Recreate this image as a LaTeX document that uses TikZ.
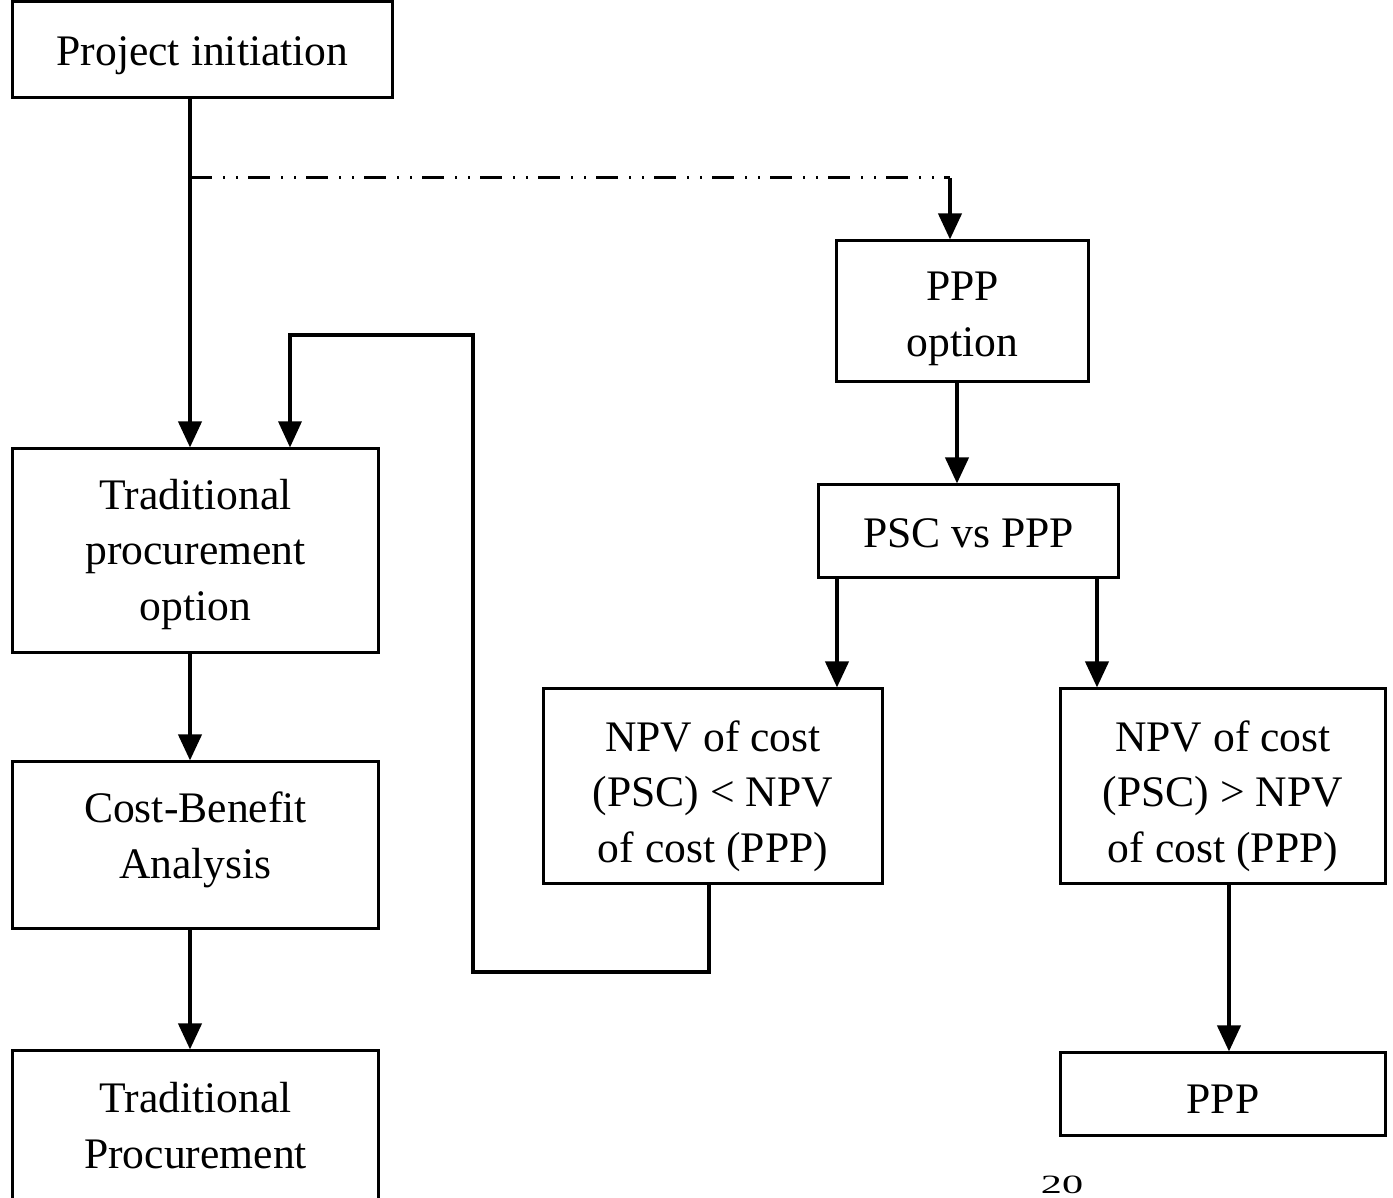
\documentclass[tikz,border=0pt]{standalone}
\usepackage{fontspec}
\setmainfont{Liberation Serif}
\usetikzlibrary{arrows.meta,calc}
\begin{document}
\begin{tikzpicture}[x=0.01cm,y=-0.01cm,
  box/.style={draw, line width=0.85pt, inner sep=0pt},
  txt/.style={align=center, inner sep=0pt, font=\fontsize{12.4}{15.8}\selectfont},
  arr/.style={line width=1.15pt, -{Triangle[length=2.6mm,width=2.3mm]}},
  retarr/.style={line width=0.9pt, -{Triangle[length=2.6mm,width=2.3mm]}},
  dd/.style={line width=0.85pt, dash pattern=on 2.2mm off 1.1mm on 0.2mm off 1.1mm on 0.2mm off 1.0mm}]
\useasboundingbox (0,0) rectangle (1393,1198);

% boxes
\node[box, minimum width=3.79cm, minimum height=0.95cm] (init) at (202.5,49.5) {};
\node[box, minimum width=3.65cm, minimum height=2.03cm] (trad) at (195.5,550.5) {};
\node[box, minimum width=3.65cm, minimum height=1.66cm] (cba) at (195.5,845) {};
\node[box, minimum width=3.65cm, minimum height=1.59cm] (tp) at (195.5,1130.5) {};
\node[box, minimum width=2.51cm, minimum height=1.40cm] (pppopt) at (962.5,311) {};
\node[box, minimum width=2.99cm, minimum height=0.92cm] (psc) at (968.5,531) {};
\node[box, minimum width=3.38cm, minimum height=1.94cm] (npvl) at (713,786) {};
\node[box, minimum width=3.24cm, minimum height=1.94cm] (npvr) at (1223,786) {};
\node[box, minimum width=3.24cm, minimum height=0.82cm] (ppp) at (1223,1094) {};

% texts
\node[txt] (initT) at ($(init.center)+(0,6)$) {Project initiation};
\node[txt] (tradT) at ($(trad.center)+(0,4)$) {Traditional\\procurement\\option};
\node[txt] (cbaT) at ($(cba.center)+(0,-5)$) {Cost-Benefit\\Analysis};
\node[txt] (tpT) at ($(tp.center)+(0,-5)$) {Traditional\\Procurement};
\node[txt] (pppoptT) at ($(pppopt.center)+(0,8)$) {PPP\\option};
\node[txt] (pscT) at ($(psc.center)+(0,2)$) {PSC vs PPP};
\node[txt] (npvlT) at ($(npvl.center)+(0,10)$) {NPV of cost\\(PSC) {<} NPV\\of cost (PPP)};
\node[txt] (npvrT) at ($(npvr.center)+(0,10)$) {NPV of cost\\(PSC) {>} NPV\\of cost (PPP)};
\node[txt] (pppT) at ($(ppp.center)+(0,5)$) {PPP};
\node[font=\fontsize{7.5}{8}\selectfont, xscale=1.6, inner sep=0pt] (pg) at (1062,1185) {20};

\coordinate (xA) at (190,0);
\coordinate (xR) at (290,0);
\coordinate (jn) at (190,178);
\coordinate (dc) at (950,178);
\coordinate (xP) at (957,0);
\coordinate (xL) at (837,0);
\coordinate (xM) at (1097,0);
\coordinate (xN) at (1229,0);
\coordinate (xV) at (709,0);
\coordinate (rb) at (709,972);
\coordinate (rc) at (473,972);
\coordinate (rd) at (473,335);
\coordinate (re) at (290,335);

\draw[arr] (init.south -| xA) -- (trad.north -| xA);
\draw[dd] (jn) -- (dc);
\draw[arr] (dc) -- (pppopt.north -| dc);
\draw[arr] (pppopt.south -| xP) -- (psc.north -| xP);
\draw[arr] (psc.south -| xL) -- (npvl.north -| xL);
\draw[arr] (psc.south -| xM) -- (npvr.north -| xM);
\draw[arr] (npvr.south -| xN) -- (ppp.north -| xN);
\draw[arr] (trad.south -| xA) -- (cba.north -| xA);
\draw[arr] (cba.south -| xA) -- (tp.north -| xA);
\draw[retarr] (npvl.south -| xV) -- (rb) -- (rc) -- (rd) -- (re) -- (trad.north -| xR);
\end{tikzpicture}
\end{document}
